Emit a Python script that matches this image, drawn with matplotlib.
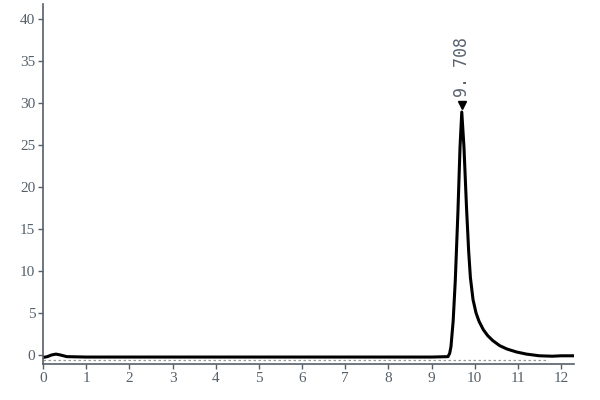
import numpy as np
import matplotlib.pyplot as plt

# chromatogram trace (time in min, signal)
time = [0.0, 0.1, 0.2, 0.3, 0.4, 0.55, 1.0, 2.0, 3.0, 4.0, 5.0, 6.0, 7.0, 8.0, 9.0,
        9.38, 9.42, 9.45, 9.5, 9.55, 9.61, 9.66, 9.70, 9.75, 9.81, 9.86, 9.90,
        9.96, 10.03, 10.1, 10.2, 10.3, 10.42, 10.58, 10.75, 10.97, 11.2, 11.5, 11.8,
        12.0, 12.3]
signal = [-0.3, -0.2, 0.0, 0.1, 0.0, -0.2, -0.25, -0.25, -0.25, -0.25, -0.25, -0.25,
          -0.25, -0.25, -0.25,
          -0.2, 0.2, 1.0, 4.0, 8.9, 16.9, 24.8, 28.9, 24.8, 17.5, 12.3, 9.2,
          6.6, 5.0, 4.0, 3.0, 2.3, 1.7, 1.1, 0.7, 0.35, 0.1, -0.1, -0.15,
          -0.1, -0.1]
baseline_x = [0.0, 11.7]
baseline_y = [-0.65, -0.65]
peak_time = 9.70
peak_height = 28.9
peak_label = "9. 708"

x_ticks = list(range(0, 13))
y_ticks = list(range(0, 45, 5))

fig = plt.figure(figsize=(6, 4), dpi=100)
ax = fig.add_axes([0.0717, 0.0895, 0.885, 0.9015])

ax.plot(baseline_x, baseline_y, color="#9a9a9a", lw=0.9, ls=(0, (2, 2)))
ax.plot(time, signal, color="black", lw=2.2, solid_joinstyle="round")
ax.plot([peak_time], [peak_height + 0.8], marker="v", color="black", ms=6)
ax.text(peak_time, peak_height + 1.8, peak_label, rotation=90, ha="center", va="bottom",
        family="DejaVu Sans Mono", fontsize=12, color="#5a6470")

ax.set_xlim(0, 12.3)
ax.set_ylim(-1.1, 41.8)
ax.set_xticks(x_ticks)
ax.set_yticks(y_ticks)

for side in ["top", "right"]:
    ax.spines[side].set_visible(False)
for side in ["left", "bottom"]:
    ax.spines[side].set_color("#55606a")
    ax.spines[side].set_linewidth(1.2)

ax.tick_params(direction="out", length=3.5, width=1.0, color="#55606a",
               labelcolor="#55606a", labelsize=11, pad=2)
for lab in ax.get_xticklabels() + ax.get_yticklabels():
    lab.set_family("Liberation Serif")

fig.savefig("out.png", dpi=100)
